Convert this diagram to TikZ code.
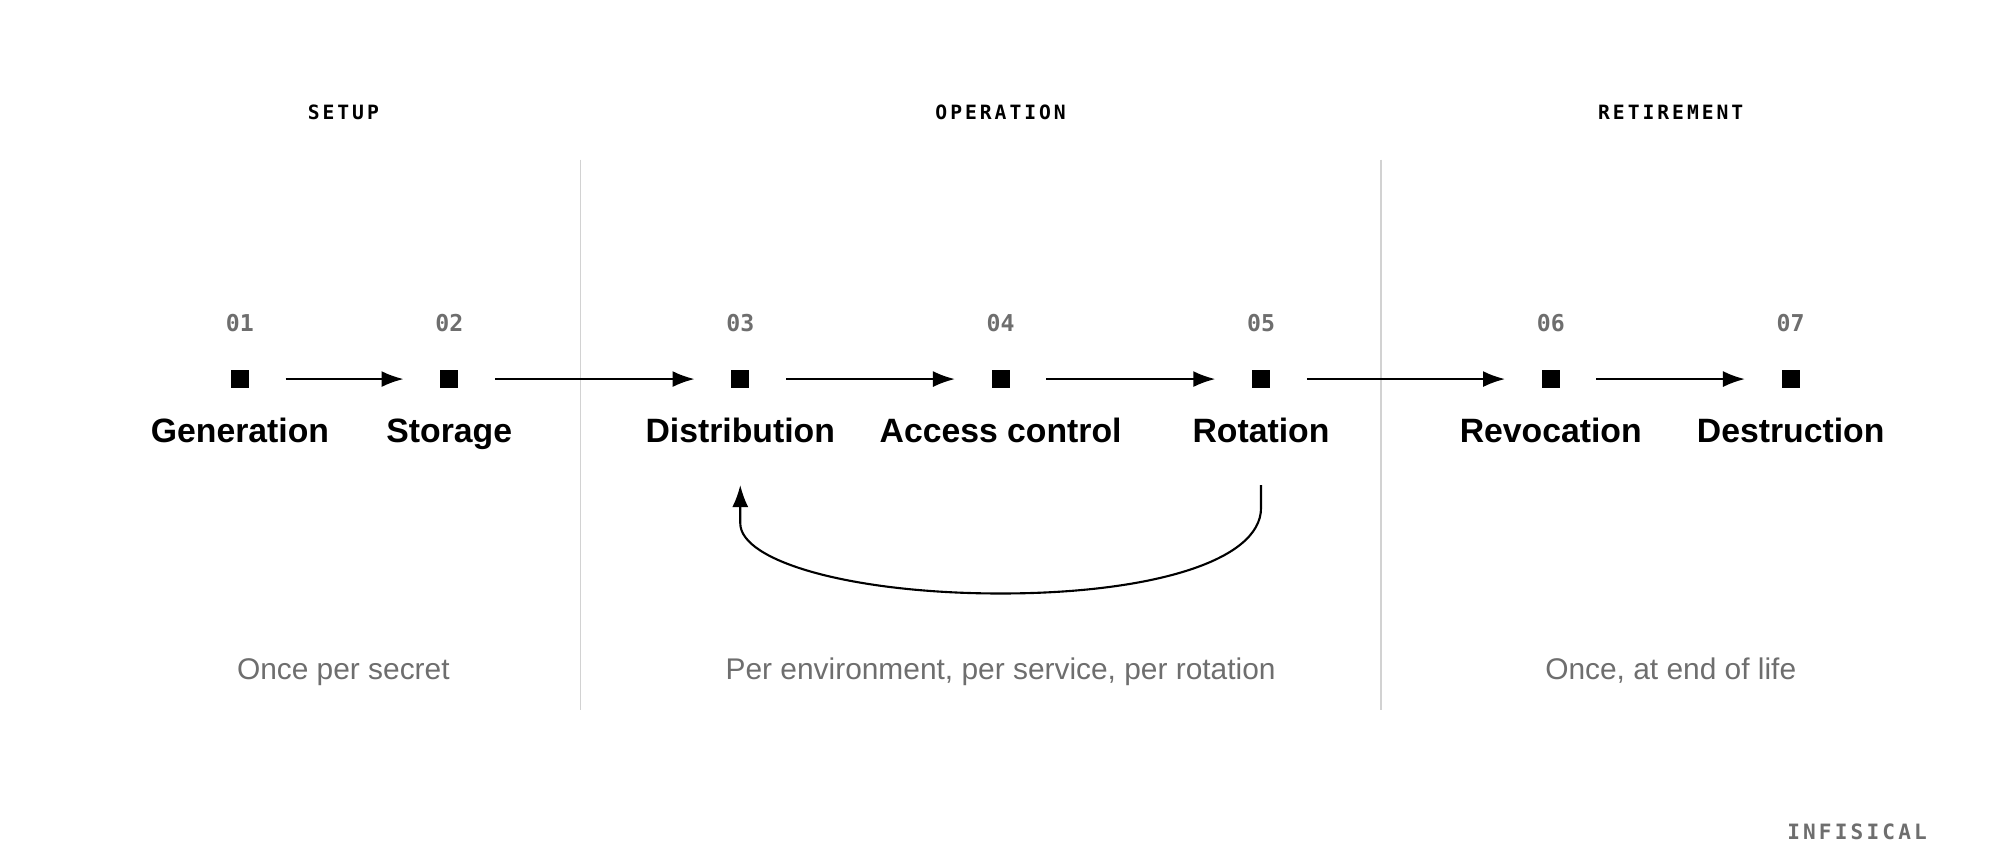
\documentclass[tikz,border=0pt]{standalone}
\usepackage{fontspec}
\setmainfont{Liberation Sans}
\newfontfamily\monofont{DejaVu Sans Mono}
\newfontfamily\monospaced[LetterSpace=15]{DejaVu Sans Mono}
\usetikzlibrary{arrows.meta}
\definecolor{stepgray}{RGB}{110,110,110}
\definecolor{rulegray}{RGB}{210,210,210}

\begin{document}
\begin{tikzpicture}[x=0.01276cm, y=-0.01276cm, inner sep=0pt]
    \tikzstyle{stage}=[font=\monospaced\bfseries\fontsize{5.6}{6}\selectfont, text=black, anchor=base]
    \tikzstyle{num}=[font=\monofont\bfseries\fontsize{6.6}{7}\selectfont, text=stepgray, anchor=base]
    \tikzstyle{dot}=[rectangle, fill=black, minimum size=0.18cm]
    \tikzstyle{phase}=[font=\bfseries\fontsize{9.6}{11}\selectfont, text=black, anchor=base]
    \tikzstyle{note}=[font=\fontsize{8.5}{10}\selectfont, text=stepgray, anchor=base]
    \tikzstyle{flow}=[-{Latex[length=2.2mm,width=1.6mm]}, semithick, shorten <=0.36cm, shorten >=0.36cm]

    \useasboundingbox (0,0) rectangle (1567,674);

    \node[stage] (setup) at (269,94) {SETUP};
    \node[stage] (oper) at (784,94) {OPERATION};
    \node[stage] (retire) at (1309,94) {RETIREMENT};

    \draw[rulegray] (455,125) -- (455,556);
    \draw[rulegray] (1082,125) -- (1082,556);

    \foreach \x/\n/\name/\lbl in {188/01/gen/Generation, 352/02/sto/Storage,
        580/03/dis/Distribution, 784/04/acc/Access control, 988/05/rot/Rotation,
        1215/06/rev/Revocation, 1403/07/des/Destruction} {
        \node[num] (n\name) at (\x,260) {\n};
        \node[dot] (\name) at (\x,297) {};
        \node[phase] (l\name) at (\x,347) {\lbl};
    }

    \draw[flow] (gen) -- (sto);
    \draw[flow] (sto) -- (dis);
    \draw[flow] (dis) -- (acc);
    \draw[flow] (acc) -- (rot);
    \draw[flow] (rot) -- (rev);
    \draw[flow] (rev) -- (des);

    \coordinate (loopa) at (988,380);
    \coordinate (loopb) at (580,380);
    \draw[semithick, -{Latex[length=2.2mm,width=1.6mm]}] (loopa) -- (988,398)
        .. controls (988,440) and (900,465) .. (784,465)
        .. controls (668,465) and (580,440) .. (580,410) -- (loopb);

    \node[note] (once) at (269,532) {Once per secret};
    \node[note] (per) at (784,532) {Per environment, per service, per rotation};
    \node[note] (end) at (1309,532) {Once, at end of life};

    \node[num, font=\monospaced\bfseries\fontsize{6}{7}\selectfont] (brand) at (1455,658) {INFISICAL};
\end{tikzpicture}
\end{document}
